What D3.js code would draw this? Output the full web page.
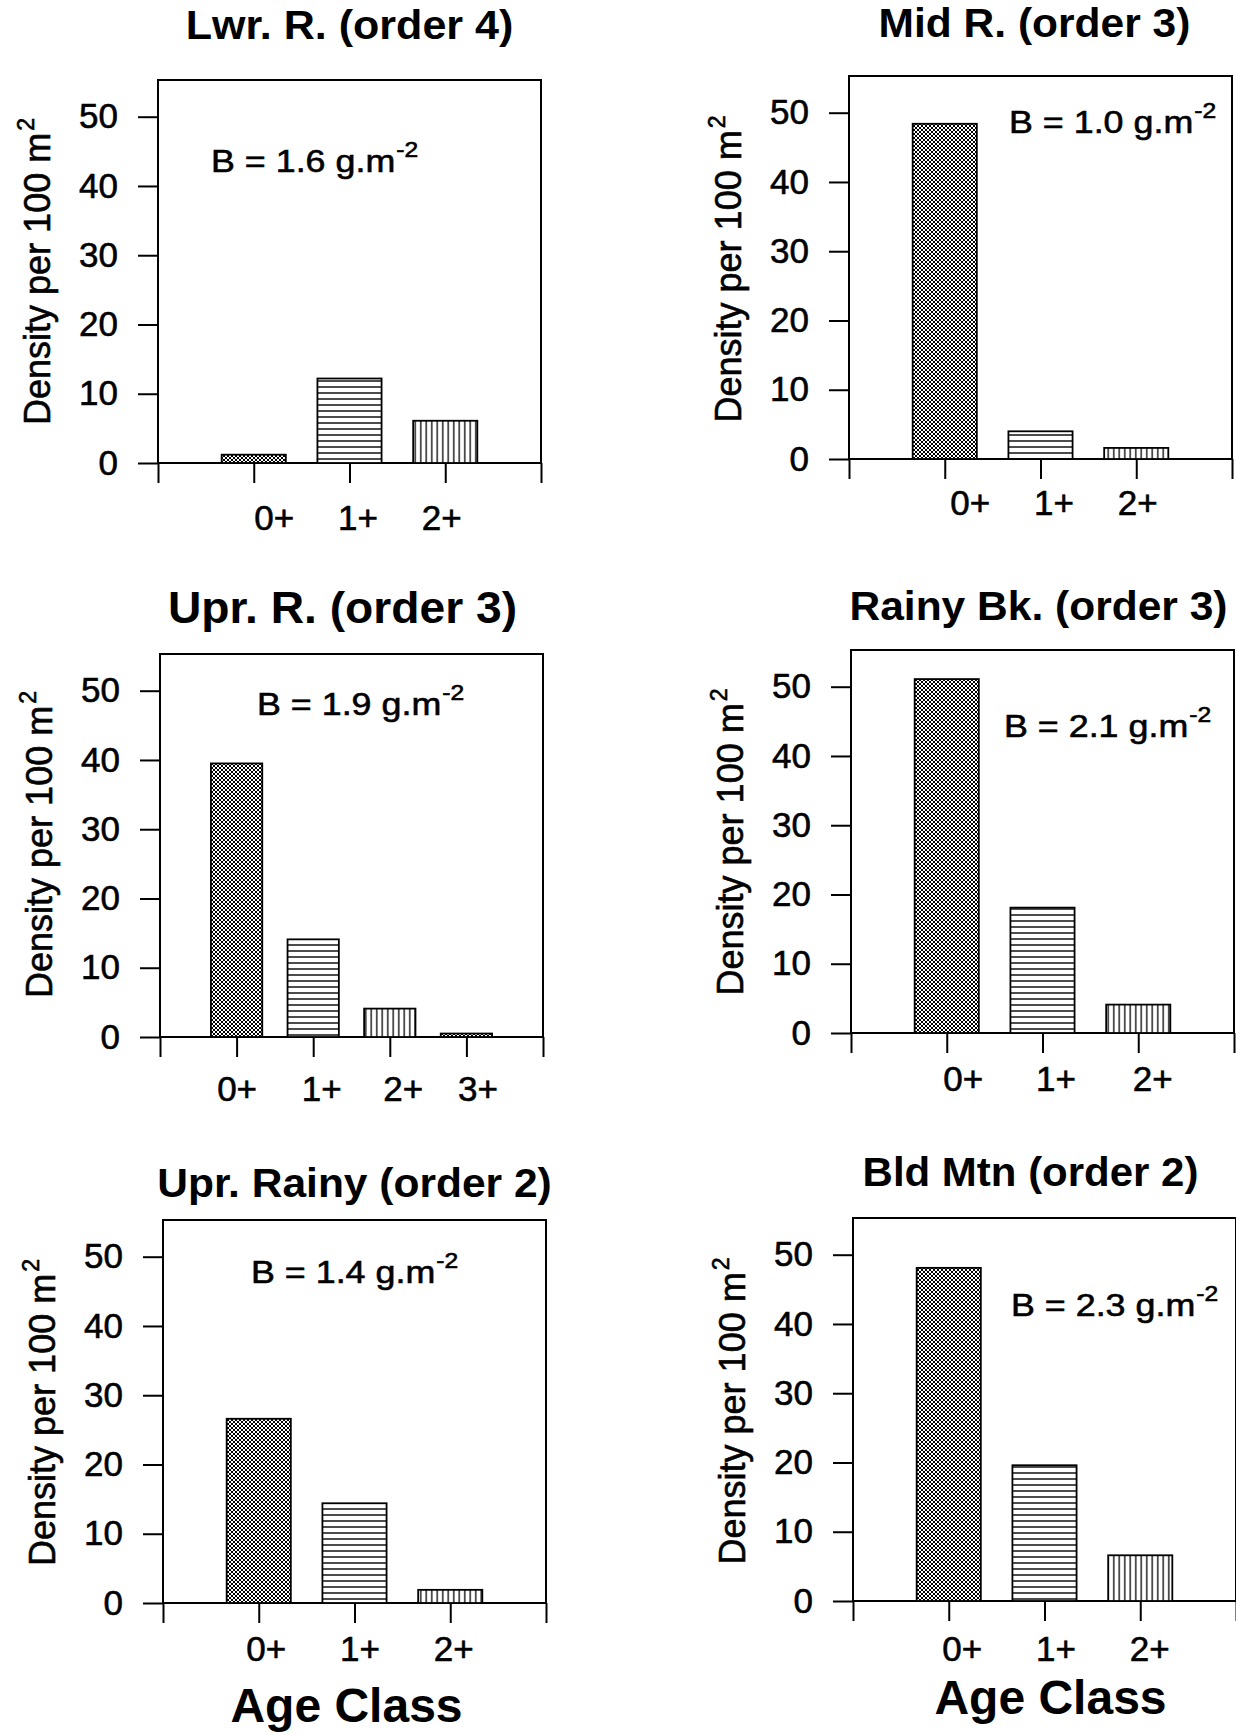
<!DOCTYPE html>
<html><head><meta charset="utf-8">
<script src="https://cdn.jsdelivr.net/npm/d3@7"></script>
<style>body{margin:0;background:#fff}</style>
</head><body>
<svg id="chart" width="1236" height="1735"></svg>
<script>
// ---------- data ----------
const panelTitles = ["Lwr. R. (order 4)", "Mid R. (order 3)", "Upr. R. (order 3)",
                     "Rainy Bk. (order 3)", "Upr. Rainy (order 2)", "Bld Mtn (order 2)"];
const biomassValues = ["1.6", "1.0", "1.9", "2.1", "1.4", "2.3"];
const ageClasses3 = ["0+", "1+", "2+"];
const ageClasses4 = ["0+", "1+", "2+", "3+"];
const lwrDensity      = [1.2, 12.2, 6.1];
const midDensity      = [48.4, 4.0, 1.6];
const uprDensity      = [39.5, 14.1, 4.1, 0.5];
const rainyBkDensity  = [51.1, 18.1, 4.1];
const uprRainyDensity = [26.6, 14.4, 1.9];
const bldMtnDensity   = [48.1, 19.6, 6.6];
const yTickValues = [0, 10, 20, 30, 40, 50];
const yMax = 55.3;
const yAxisLabel = "Density per 100 m";
const xAxisTitle = "Age Class";

const panelData = [
  {cats: ageClasses3, vals: lwrDensity},
  {cats: ageClasses3, vals: midDensity},
  {cats: ageClasses4, vals: uprDensity},
  {cats: ageClasses3, vals: rainyBkDensity},
  {cats: ageClasses3, vals: uprRainyDensity},
  {cats: ageClasses3, vals: bldMtnDensity}
];

// ---------- layout / style ----------
const W = 383, H = 383;
const layout = [
  {left:158, top:80,   zero:463,  tSize:41, tDx:0,   tDy:-41, bDx:53,  bDy:92, xlDy:67, xlOff:[20, 8, -4]},
  {left:849, top:79,   zero:459,  tSize:40.5, tDx:-6,  tDy:-42, bDx:160, bDy:54, xlDy:56, xlOff:[25, 13, 1]},
  {left:160, top:652,  zero:1037, tSize:44, tDx:-9,  tDy:-29, bDx:97,  bDy:63, xlDy:64, xlOff:[0, 8, 13, 11]},
  {left:851, top:651,  zero:1033, tSize:40.5, tDx:-4,  tDy:-31, bDx:153, bDy:86, xlDy:58, xlOff:[16, 13, 14]},
  {left:163, top:1222, zero:1603, tSize:40.5, tDx:0,   tDy:-25, bDx:88,  bDy:61, xlDy:58, xlOff:[7, 5, 3], xtDy:119, xtDx:-8},
  {left:853, top:1221, zero:1601, tSize:40, tDx:-14, tDy:-35, bDx:158, bDy:95, xlDy:60, xlOff:[13, 11, 9], xtDy:113, xtDx:6}
];
const FONT = "'Liberation Sans', Arial, Helvetica, sans-serif";
const patternIds = ["pCross", "pHoriz", "pVert", "pCross"];
const thick = sel => sel.attr("stroke", "#000").attr("stroke-width", 0.6).attr("paint-order", "stroke");

const svg = d3.select("#chart");
svg.append("rect").attr("width", 1236).attr("height", 1735).attr("fill", "#fff");

// patterns
const defs = svg.append("defs");
const pc = defs.append("pattern").attr("id", "pCross").attr("patternUnits", "userSpaceOnUse")
  .attr("width", 4).attr("height", 4);
pc.append("rect").attr("width", 4).attr("height", 4).attr("fill", "#fff");
pc.append("path").attr("d", "M0,0L4,4M4,0L0,4M-1,3L1,5M3,-1L5,1M-1,1L1,-1M3,5L5,3")
  .attr("stroke", "#000").attr("stroke-width", 1.0);
const ph = defs.append("pattern").attr("id", "pHoriz").attr("patternUnits", "userSpaceOnUse")
  .attr("width", 10).attr("height", 6);
ph.append("rect").attr("width", 10).attr("height", 6).attr("fill", "#fff");
ph.append("line").attr("x1", 0).attr("x2", 10).attr("y1", 3).attr("y2", 3)
  .attr("stroke", "#000").attr("stroke-width", 1.4);
const pv = defs.append("pattern").attr("id", "pVert").attr("patternUnits", "userSpaceOnUse")
  .attr("width", 5.5).attr("height", 10);
pv.append("rect").attr("width", 5.5).attr("height", 10).attr("fill", "#fff");
pv.append("line").attr("x1", 2.75).attr("x2", 2.75).attr("y1", 0).attr("y2", 10)
  .attr("stroke", "#000").attr("stroke-width", 1.3);

panelData.forEach((pd, k) => {
  const L = layout[k];
  const n = pd.cats.length;
  const x = d3.scaleLinear().domain([0, n + 1]).range([L.left, L.left + W]);
  const y = d3.scaleLinear().domain([0, yMax]).range([L.zero, L.zero - H]);
  const g = svg.append("g");

  // frame
  g.append("rect").attr("x", L.left).attr("y", y(yMax)).attr("width", W).attr("height", y(0) - y(yMax))
    .attr("fill", "none").attr("stroke", "#000").attr("stroke-width", 2);

  // bars
  const bw = x(0.67) - x(0);
  g.selectAll("rect.bar").data(pd.vals).join("rect").attr("class", "bar")
    .attr("x", (v, i) => x(i + 1) - bw / 2)
    .attr("y", v => y(v))
    .attr("width", bw)
    .attr("height", v => y(0) - y(v))
    .attr("fill", (v, i) => `url(#${patternIds[i]})`)
    .attr("stroke", "#000").attr("stroke-width", 1.8);

  // y axis
  const ya = g.append("g").attr("transform", `translate(${L.left},0)`)
    .call(d3.axisLeft(y).tickValues(yTickValues).tickSize(20).tickPadding(20).tickFormat(d3.format("d")));
  ya.select(".domain").remove();
  ya.selectAll("line").attr("stroke", "#000").attr("stroke-width", 2);
  ya.selectAll("text").attr("font-family", FONT).attr("font-size", 35).attr("fill", "#000").call(thick);

  // x axis
  const xa = g.append("g").attr("transform", `translate(0,${L.zero})`)
    .call(d3.axisBottom(x).tickValues(d3.range(0, n + 2)).tickSize(20)
      .tickPadding(L.xlDy - 25 - 20)
      .tickFormat(i => (i >= 1 && i <= n) ? pd.cats[i - 1] : ""));
  xa.select(".domain").remove();
  xa.selectAll("line").attr("stroke", "#000").attr("stroke-width", 2);
  xa.selectAll("text").attr("font-family", FONT).attr("font-size", 35).attr("fill", "#000")
    .attr("dx", i => (i >= 1 && i <= n) ? L.xlOff[i - 1] : 0).call(thick);

  // title
  g.append("text")
    .attr("transform", `translate(${L.left + W / 2 + L.tDx},${L.top + L.tDy}) scale(1.05,1)`)
    .attr("text-anchor", "middle").attr("font-family", FONT).attr("font-weight", "bold")
    .attr("font-size", L.tSize).attr("fill", "#000").text(panelTitles[k]);

  // y label
  const yl = g.append("text")
    .attr("transform", `translate(${L.left - 108},${(L.top + L.zero) / 2}) rotate(-90)`)
    .attr("text-anchor", "middle").attr("font-family", FONT).attr("font-size", 36).attr("fill", "#000")
    .call(thick);
  yl.append("tspan").text(yAxisLabel);
  yl.append("tspan").attr("font-size", 23).attr("dy", -16).attr("dx", 2).text("2");

  // biomass annotation
  const bt = g.append("text")
    .attr("transform", `translate(${L.left + L.bDx},${L.top + L.bDy}) scale(1.12,1)`)
    .attr("font-family", FONT).attr("font-size", 32).attr("fill", "#000").call(thick);
  bt.append("tspan").text(`B = ${biomassValues[k]} g.m`);
  bt.append("tspan").attr("font-size", 22).attr("dy", -15).attr("dx", 1).text("-2");

  // x axis title
  if (L.xtDy) {
    g.append("text")
      .attr("x", L.left + W / 2 + L.xtDx).attr("y", L.zero + L.xtDy)
      .attr("text-anchor", "middle").attr("font-family", FONT).attr("font-weight", "bold")
      .attr("font-size", 48).attr("fill", "#000").text(xAxisTitle);
  }
});
</script>
</body></html>
